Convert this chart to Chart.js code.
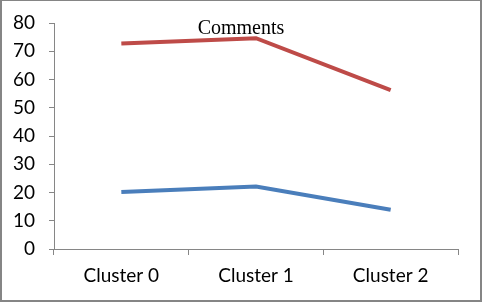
<!DOCTYPE html>
<html lang="en">
<head>
  <meta charset="UTF-8" />
  <title>Comments</title>
  <script src="https://cdn.jsdelivr.net/npm/chart.js"></script>
  <style>
    html, body { margin: 0; padding: 0; background: #fff; }
    .frame {
      width: 482px;
      height: 302px;
      box-sizing: border-box;
      border-style: solid;
      border-color: #858585;
      border-width: 1px 2px 2px 2px;
    }
  </style>
</head>
<body>

<div class="frame">
  <canvas id="commentsChart" width="478" height="299"></canvas>
</div>

<script>
  // Werte
  const clusters = ['Cluster 0', 'Cluster 1', 'Cluster 2'];
  const redSeries = [72.7, 74.6, 56.2];
  const blueSeries = [20.2, 22.1, 13.9];
  const yTicks = [0, 10, 20, 30, 40, 50, 60, 70, 80];
  const chartTitle = 'Comments';

  const axisColor = '#868686';
  const tickFont = { family: 'Lato', size: 19 };

  // Titel sitzt im Plotbereich, daher eigenes Plugin
  const titlePlugin = {
    id: 'innerTitle',
    afterDraw(chart) {
      const ctx = chart.ctx;
      ctx.save();
      ctx.font = '20px "Liberation Serif", "Times New Roman", serif';
      ctx.fillStyle = '#000';
      ctx.textAlign = 'center';
      ctx.textBaseline = 'middle';
      ctx.fillText(chartTitle, chart.width / 2, 28);
      ctx.restore();
    }
  };

  const ctx = document.getElementById('commentsChart').getContext('2d');
  new Chart(ctx, {
    type: 'line',
    data: {
      labels: clusters,
      datasets: [
        { label: 'A', data: redSeries, borderColor: '#BE4B48', borderWidth: 4, pointRadius: 0, tension: 0, fill: false },
        { label: 'B', data: blueSeries, borderColor: '#4A7EBB', borderWidth: 4, pointRadius: 0, tension: 0, fill: false }
      ]
    },
    options: {
      responsive: false,
      animation: false,
      layout: { padding: { top: 22, right: 22, left: 0, bottom: 0 } },
      plugins: { legend: { display: false }, tooltip: { enabled: false }, title: { display: false } },
      scales: {
        x: {
          type: 'category',
          offset: true,
          grid: { offset: true, drawOnChartArea: false, color: axisColor, tickLength: 6 },
          border: { color: axisColor, width: 1 },
          ticks: { color: '#000', font: tickFont, padding: 9, maxRotation: 0 },
          afterFit(scale) { scale.height = 51; scale.paddingLeft = 0; scale.paddingRight = 0; }
        },
        y: {
          min: 0,
          max: 80,
          afterBuildTicks(scale) { scale.ticks = yTicks.map(v => ({ value: v })); },
          grid: { drawOnChartArea: false, color: axisColor, tickLength: 5 },
          border: { color: axisColor, width: 1 },
          ticks: { color: '#000', font: tickFont, padding: 14 },
          afterFit(scale) { scale.width = 52; scale.paddingTop = 0; scale.paddingBottom = 0; }
        }
      }
    },
    plugins: [titlePlugin]
  });
</script>

</body>
</html>
